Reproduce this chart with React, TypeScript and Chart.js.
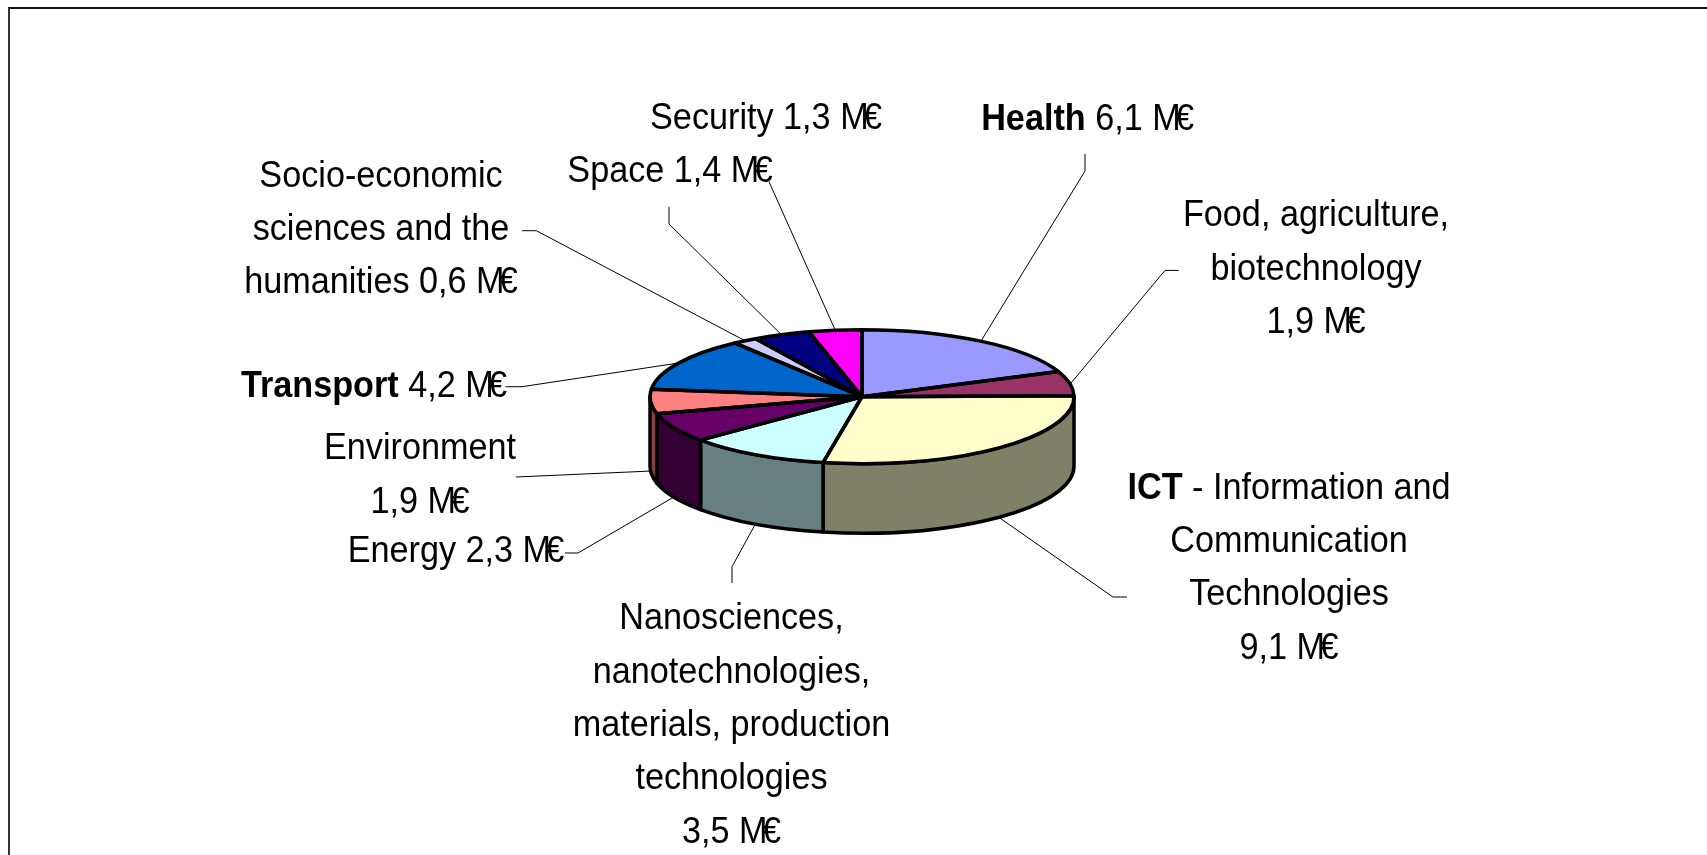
import React, { useEffect, useRef } from "react";
import { Chart, registerables } from "chart.js";

Chart.register(...registerables);

const categories = [
  "Health", "Food, agriculture, biotechnology", "ICT - Information and Communication Technologies",
  "Nanosciences, nanotechnologies, materials, production technologies", "Energy", "Environment",
  "Transport", "Socio-economic sciences and the humanities", "Space", "Security",
];
const values = [6.1, 1.9, 9.1, 3.5, 2.3, 1.9, 4.2, 0.6, 1.4, 1.3];
const topColors = ["#9999FF", "#993366", "#FFFFCC", "#CCFFFF", "#660066", "#FF8080", "#0066CC", "#CCCCFF", "#000080", "#FF00FF"];
const sideColors = ["#4C4C80", "#4C1933", "#808066", "#668080", "#330033", "#804040", "#003366", "#666680", "#000040", "#800080"];

const labelLines = [
  ["Health {v}"],
  ["Food, agriculture,", "biotechnology", "{v}"],
  ["ICT - Information and", "Communication", "Technologies", "{v}"],
  ["Nanosciences,", "nanotechnologies,", "materials, production", "technologies", "{v}"],
  ["Energy {v}"],
  ["Environment", "{v}"],
  ["Transport {v}"],
  ["Socio-economic", "sciences and the", "humanities {v}"],
  ["Space {v}"],
  ["Security {v}"],
];
const boldHeads = ["Health", "", "ICT", "", "", "", "Transport", "", "", ""];

// label block: centre x and first baseline
const labelX = [1087.6, 1316, 1289, 731.5, 456, 420, 374, 381, 670, 766];
const labelY = [129.8, 226.4, 498.7, 629.3, 562.3, 459.3, 396.7, 186.7, 181.7, 129.3];
// leader line: points from the label towards the pie rim
const leaderPaths = [
  [[1085, 154], [1085, 171]],
  [[1178.6, 270.4], [1165, 270.4]],
  [[1127, 597], [1113, 597]],
  [[732, 583], [732, 566.7]],
  [[565, 553], [578, 553]],
  [[516, 477]],
  [[505.7, 386.7], [522, 386.7]],
  [[522, 230.7], [536.3, 230.7]],
  [[669, 206.7], [669, 224]],
  [[769, 181.7]],
];

const TILT = 0.316;
const DEPTH = 69.5;
const FONT_SIZE = 36;
const LINE_H = 53.3;
const TEXT_SCALE = 0.95;
const EURO_OVERLAP = 6;
const EDGE_WIDTH = 3.5;
const FONT = "Liberation Sans";

const fmt = (v: number) => `${v.toFixed(1).replace(".", ",")} M€`;

const pie3d = {
  id: "pie3d",
  beforeDatasetsDraw(chart: any) {
    const { ctx } = chart;
    const arcs = chart.getDatasetMeta(0).data;
    const { x: cx, y: cy } = arcs[0];
    ctx.save();
    ctx.lineJoin = "round";
    ctx.lineWidth = EDGE_WIDTH;
    ctx.strokeStyle = "#000";
    arcs.forEach((arc: any, i: number) => {
      const r = arc.outerRadius;
      const norm = (a: number) => (a < -Math.PI / 2 ? a + Math.PI * 2 : a);
      let a0 = norm(arc.startAngle);
      let a1 = arc.endAngle;
      a0 = Math.max(a0, 0);
      a1 = Math.min(a1, Math.PI);
      if (a1 <= a0) return;
      ctx.beginPath();
      ctx.ellipse(cx, cy, r, r * TILT, 0, a0, a1);
      ctx.ellipse(cx, cy + DEPTH, r, r * TILT, 0, a1, a0, true);
      ctx.closePath();
      ctx.fillStyle = sideColors[i];
      ctx.fill();
      ctx.stroke();
    });
    ctx.restore();
    ctx.save();
    ctx.translate(cx, cy);
    ctx.scale(1, TILT);
    ctx.translate(-cx, -cy);
  },
  afterDatasetsDraw(chart: any) {
    const { ctx } = chart;
    ctx.restore();
    const arcs = chart.getDatasetMeta(0).data;
    ctx.save();
    ctx.lineJoin = "round";
    ctx.lineWidth = EDGE_WIDTH;
    ctx.strokeStyle = "#000";
    arcs.forEach((arc: any) => {
      const r = arc.outerRadius;
      ctx.beginPath();
      ctx.moveTo(arc.x, arc.y);
      ctx.ellipse(arc.x, arc.y, r, r * TILT, 0, arc.startAngle, arc.endAngle);
      ctx.closePath();
      ctx.stroke();
    });
    ctx.restore();
  },
  afterDraw(chart: any) {
    const { ctx } = chart;
    const arcs = chart.getDatasetMeta(0).data;
    ctx.save();
    ctx.strokeStyle = "#000";
    ctx.lineWidth = 1;
    arcs.forEach((arc: any, i: number) => {
      const mid = (arc.startAngle + arc.endAngle) / 2;
      const r = arc.outerRadius + 1;
      const s = Math.sin(mid);
      const ex = arc.x + r * Math.cos(mid);
      const ey = arc.y + r * TILT * s + (s > 0 || (Math.abs(Math.cos(mid)) > 0.99 && s > -0.1) ? DEPTH : 0);
      ctx.beginPath();
      leaderPaths[i].forEach((p, j) => (j ? ctx.lineTo(p[0], p[1]) : ctx.moveTo(p[0], p[1])));
      ctx.lineTo(ex, ey);
      ctx.stroke();
    });
    ctx.fillStyle = "#000";
    ctx.textBaseline = "alphabetic";
    ctx.textAlign = "left";
    const reg = `${FONT_SIZE}px "${FONT}"`;
    const bold = `bold ${FONT_SIZE}px "${FONT}"`;
    labelLines.forEach((lines, i) => {
      lines.forEach((raw, li) => {
        const line = raw.replace("{v}", fmt(values[i]));
        const head = boldHeads[i] && line.startsWith(boldHeads[i]) ? boldHeads[i] : "";
        const body = line.slice(head.length);
        const hasEuro = body.endsWith("€");
        const rest = hasEuro ? body.slice(0, -1) : body;
        ctx.font = bold;
        const hw = head ? ctx.measureText(head).width : 0;
        ctx.font = reg;
        const rw = ctx.measureText(rest).width;
        const ew = hasEuro ? ctx.measureText("€").width - EURO_OVERLAP : 0;
        const total = (hw + rw + ew) * TEXT_SCALE;
        ctx.save();
        ctx.translate(labelX[i] - total / 2, labelY[i] + li * LINE_H);
        ctx.scale(TEXT_SCALE, 1);
        if (head) {
          ctx.font = bold;
          ctx.fillText(head, 0, 0);
        }
        ctx.font = reg;
        ctx.fillText(rest, hw, 0);
        if (hasEuro) ctx.fillText("€", hw + rw - EURO_OVERLAP, 0);
        ctx.restore();
      });
    });
    ctx.restore();
  },
};

export default function App() {
  const ref = useRef<HTMLCanvasElement>(null);
  useEffect(() => {
    const chart = new Chart(ref.current as HTMLCanvasElement, {
      type: "pie",
      data: {
        labels: categories,
        datasets: [{ data: values, backgroundColor: topColors, borderWidth: 0, clip: false } as any],
      },
      options: {
        animation: false,
        responsive: false,
        layout: { padding: { left: 650, right: 633, top: 184.7, bottom: 246.3 } },
        plugins: { legend: { display: false }, tooltip: { enabled: false } },
      },
      plugins: [pie3d as any],
    });
    return () => chart.destroy();
  }, []);
  return (
    <div style={{ position: "fixed", left: 0, top: 0, width: 1707, height: 855, overflow: "hidden", background: "#fff" }}>
      <canvas ref={ref} width={1707} height={855} style={{ display: "block", width: 1707, height: 855 }} />
      <div style={{ position: "absolute", left: 8, top: 7, right: 0, bottom: 0, borderLeft: "2px solid #333", borderTop: "2px solid #111", pointerEvents: "none" }} />
    </div>
  );
}
